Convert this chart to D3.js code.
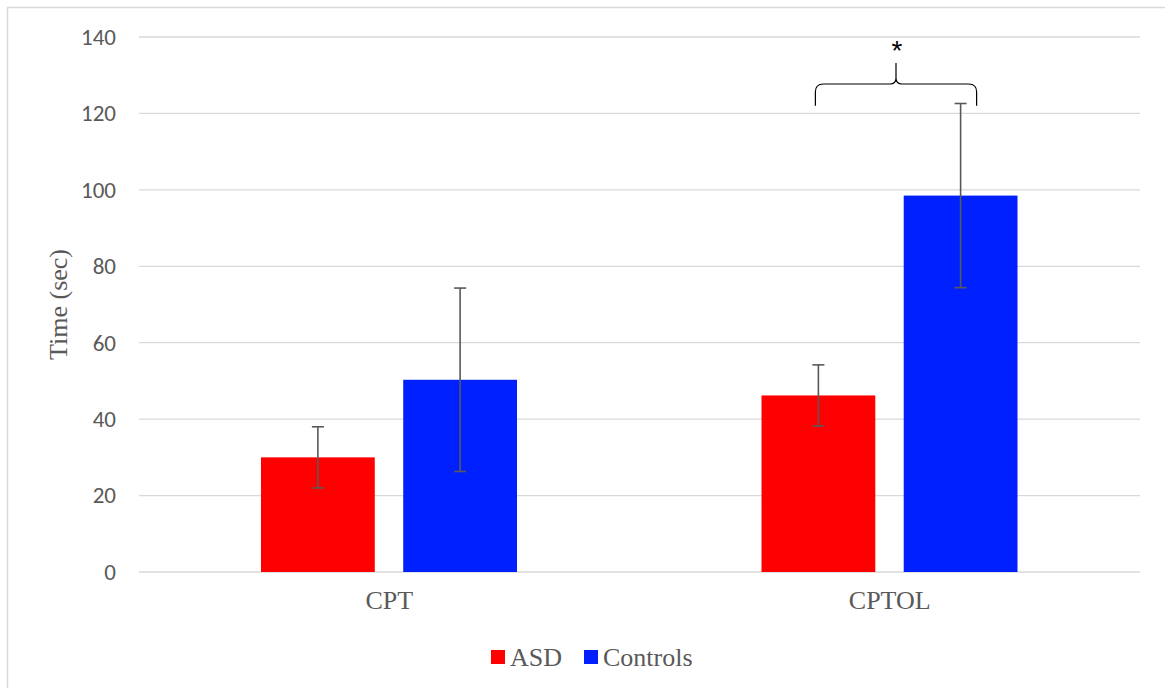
<!DOCTYPE html>
<html>
<head>
<meta charset="utf-8">
<script src="https://cdn.jsdelivr.net/npm/d3@7"></script>
<style>
  body { margin: 0; background: #fff; }
  svg { display: block; }
</style>
</head>
<body>
<script>
let categories = ["CPT", "CPTOL"];
let series = ["ASD", "Controls"];
let colors = ["#ff0000", "#0020ff"];
let asdValues = [30, 46.2];
let asdErrors = [8, 8];
let controlValues = [50.3, 98.5];
let controlErrors = [24, 24.1];
let yTicks = [0, 20, 40, 60, 80, 100, 120, 140];

let width = 1165,
    height = 688,
    plotLeft = 139,
    plotRight = 1140,
    plotTop = 37,
    plotBottom = 572;

let serif = "'Liberation Serif', 'Times New Roman', serif";

let svg = d3.select("body").append("svg")
    .attr("width", width)
    .attr("height", height);

// chart border
svg.append("rect")
    .attr("x", 7.5).attr("y", 7.5)
    .attr("width", width).attr("height", height)
    .attr("fill", "none")
    .attr("stroke", "#d9d9d9")
    .attr("stroke-width", 1.5);

let y = d3.scaleLinear().domain([0, 140]).range([plotBottom, plotTop]);
let x0 = d3.scaleBand().domain(categories).range([plotLeft, plotRight]);
let x1 = d3.scaleBand().domain(series).range([122, 378]).paddingInner(0.2);

// gridlines
svg.append("g")
    .selectAll("line")
    .data(yTicks)
    .enter().append("line")
    .attr("x1", plotLeft).attr("x2", plotRight)
    .attr("y1", d => y(d)).attr("y2", d => y(d))
    .attr("stroke", "#d9d9d9")
    .attr("stroke-width", 1.3);

// y tick labels
svg.append("g")
    .selectAll("text")
    .data(yTicks)
    .enter().append("text")
    .attr("x", 116)
    .attr("y", d => y(d))
    .attr("dy", "0.34em")
    .attr("text-anchor", "end")
    .attr("font-family", "Carlito, 'Open Sans', sans-serif")
    .attr("font-size", 23)
    .attr("fill", "#595959")
    .text(d => d);

// y axis title
svg.append("text")
    .attr("transform", `translate(67, ${(plotTop + plotBottom) / 2}) rotate(-90)`)
    .attr("text-anchor", "middle")
    .attr("font-family", serif)
    .attr("font-size", 26)
    .attr("fill", "#595959")
    .text("Time (sec)");

// x category labels
svg.append("g")
    .selectAll("text")
    .data(categories)
    .enter().append("text")
    .attr("x", d => x0(d) + x0.bandwidth() / 2)
    .attr("y", 609)
    .attr("text-anchor", "middle")
    .attr("font-family", serif)
    .attr("font-size", 26)
    .attr("fill", "#595959")
    .text(d => d);

let rows = [];
categories.forEach(function (c, i) {
    rows.push({ cat: c, key: "ASD", value: asdValues[i], err: asdErrors[i], color: colors[0] });
    rows.push({ cat: c, key: "Controls", value: controlValues[i], err: controlErrors[i], color: colors[1] });
});

function cx(d) {
    return x0(d.cat) + x1(d.key) + x1.bandwidth() / 2;
}

// bars
svg.append("g")
    .selectAll("rect")
    .data(rows)
    .enter().append("rect")
    .attr("x", d => x0(d.cat) + x1(d.key))
    .attr("width", x1.bandwidth())
    .attr("y", d => y(d.value))
    .attr("height", d => y(0) - y(d.value))
    .attr("fill", d => d.color);

// error bars
let err = svg.append("g")
    .attr("stroke", "#595959")
    .attr("stroke-width", 1.6);

rows.forEach(function (d) {
    let xc = cx(d);
    err.append("line")
        .attr("x1", xc).attr("x2", xc)
        .attr("y1", y(d.value + d.err)).attr("y2", y(d.value - d.err));
    [d.value + d.err, d.value - d.err].forEach(function (v) {
        err.append("line")
            .attr("x1", xc - 6).attr("x2", xc + 6)
            .attr("y1", y(v)).attr("y2", y(v));
    });
});

// significance brace over CPTOL
let bl = cx(rows[2]) - 3,
    br = cx(rows[3]) + 16,
    bm = (bl + br) / 2,
    bTop = y(127.7),
    bEnd = y(122),
    bPeak = y(133.2);

svg.append("path")
    .attr("d", `M ${bl} ${bEnd} L ${bl} ${bTop + 8} Q ${bl} ${bTop} ${bl + 8} ${bTop}`
        + ` L ${bm - 6} ${bTop} Q ${bm} ${bTop} ${bm} ${bTop - 6} L ${bm} ${bPeak}`
        + ` M ${bm} ${bTop - 6} Q ${bm} ${bTop} ${bm + 6} ${bTop} L ${br - 8} ${bTop}`
        + ` Q ${br} ${bTop} ${br} ${bTop + 8} L ${br} ${bEnd}`)
    .attr("fill", "none")
    .attr("stroke", "#000")
    .attr("stroke-width", 1.2);

svg.append("text")
    .attr("x", bm + 1)
    .attr("y", 60)
    .attr("text-anchor", "middle")
    .attr("font-family", "'Liberation Sans', Arial, sans-serif")
    .attr("font-size", 28)
    .attr("fill", "#000")
    .text("*");

// legend
let legend = svg.append("g");
let legendX = [491, 584];
series.forEach(function (s, i) {
    legend.append("rect")
        .attr("x", legendX[i]).attr("y", 650)
        .attr("width", 14).attr("height", 14)
        .attr("fill", colors[i]);
    legend.append("text")
        .attr("x", legendX[i] + 19)
        .attr("y", 666)
        .attr("font-family", serif)
        .attr("font-size", 26)
        .attr("fill", "#595959")
        .text(s);
});
</script>
</body>
</html>
